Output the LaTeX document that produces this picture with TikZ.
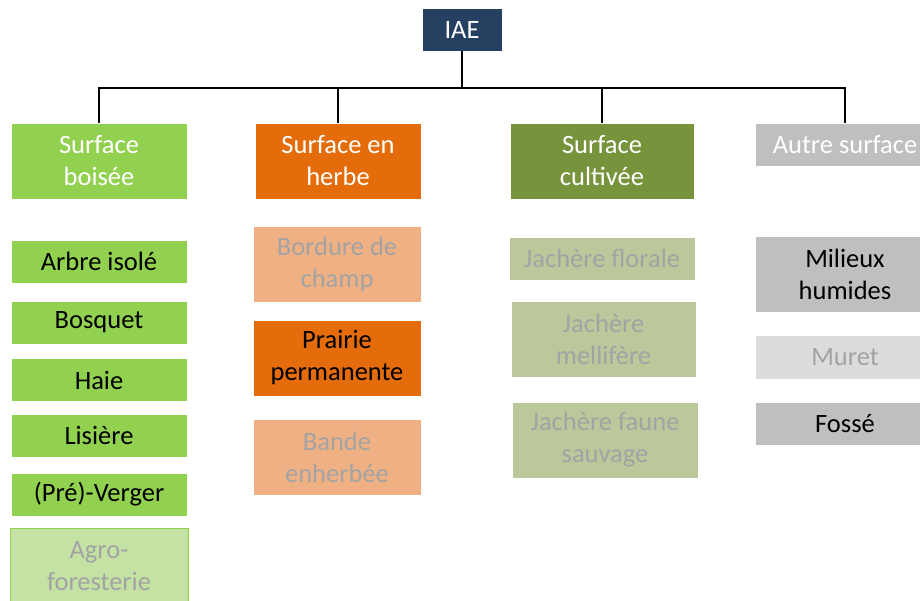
\documentclass[tikz,border=0pt]{standalone}
\usepackage{fontspec}
\setmainfont{Carlito}
\usetikzlibrary{positioning}
\definecolor{iaeblue}{HTML}{254061}
\definecolor{boisgreen}{HTML}{92D050}
\definecolor{herbeorange}{HTML}{E46C0A}
\definecolor{cultgreen}{HTML}{77933C}
\definecolor{autregray}{HTML}{BFBFBF}
\definecolor{boislight}{HTML}{C5E2A5}
\definecolor{herbelight}{HTML}{EFB184}
\definecolor{cultlight}{HTML}{BBC89C}
\definecolor{autrelight}{HTML}{DCDCDC}
\definecolor{fadedtext}{HTML}{A3A3A3}
\tikzset{every picture/.style={line width=2pt},
  box/.style={rectangle, draw=white, line width=0.8pt, inner sep=0pt, align=center, font=\fontsize{26.5}{32}\selectfont},
  single/.style={box, minimum height=43},
  double/.style={box, minimum height=76},
  faded/.style={text=fadedtext}}

\begin{document}
\begin{tikzpicture}[x=1pt,y=-1pt]
\useasboundingbox (0,0) rectangle (920,600);
\clip (0,0) rectangle (920,600);

\node (iae) [single, fill=iaeblue, text=white, minimum width=80] at (462,29.5) {IAE};
\coordinate (bus) at (462,88);

\node (bois) [double, fill=boisgreen, text=white, minimum width=176] at (99,161) {Surface\\boisée};
\node (herbe) [double, fill=herbeorange, text=white, minimum width=166] at (338,161) {Surface en\\herbe};
\node (cult) [double, fill=cultgreen, text=white, minimum width=184] at (602,161) {Surface\\cultivée};
\node (autre) [single, fill=autregray, text=white, minimum width=180] at (845,144.5) {Autre surface};

% surface boisee
\node (arbre) [single, fill=boisgreen, minimum width=176] at (99,261.5) {Arbre isolé};
\node (bosquet) [single, fill=boisgreen, minimum width=176] at (99,322.5) {Bosquet};
\node (haie) [single, fill=boisgreen, minimum width=176] at (99,380) {Haie};
\node (lisiere) [single, fill=boisgreen, minimum width=176] at (99,435.5) {Lisière};
\node (verger) [single, fill=boisgreen, minimum width=176] at (99,494.5) {(Pré)-Verger};
\node (agro) [double, faded, fill=boislight, draw=boisgreen, minimum width=178] at (99,566) {Agro-\\foresterie};

% surface en herbe
\node (bordure) [double, faded, fill=herbelight, minimum width=168] at (337,264) {Bordure de\\champ};
\node (prairie) [double, fill=herbeorange, minimum width=168] at (337,358) {Prairie\\permanente};
\node (bande) [double, faded, fill=herbelight, minimum width=168] at (337,457) {Bande\\enherbée};

% surface cultivee
\node (florale) [single, faded, fill=cultlight, minimum width=186] at (602,258.5) {Jachère florale};
\node (mellifere) [double, faded, fill=cultlight, minimum width=185] at (603.5,339) {Jachère\\mellifère};
\node (faune) [double, faded, fill=cultlight, minimum width=186] at (605,440) {Jachère faune\\sauvage};

% autre surface
\node (milieux) [double, fill=autregray, minimum width=180] at (845,274) {Milieux\\humides};
\node (muret) [single, faded, fill=autrelight, minimum width=180, minimum height=44] at (845,357) {Muret};
\node (fosse) [single, fill=autregray, minimum width=180] at (845,423.5) {Fossé};

\draw (iae) -- (bus);
\draw (bois.north) -- (bois.north |- bus) -| (autre.north);
\draw (herbe.north) -- (herbe.north |- bus);
\draw (cult.north) -- (cult.north |- bus);
\end{tikzpicture}
\end{document}
